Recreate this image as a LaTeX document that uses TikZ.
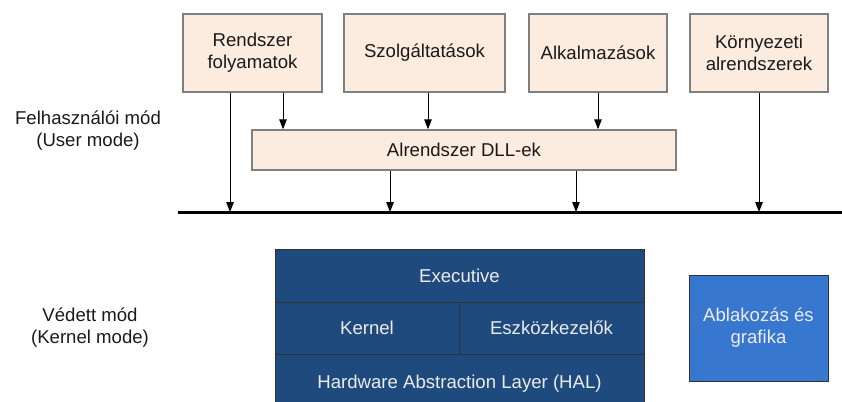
\documentclass[tikz,border=0pt]{standalone}
\usepackage{fontspec}
\setmainfont{Liberation Sans}
\usetikzlibrary{arrows.meta}

\definecolor{userfill}{HTML}{FCEBDF}
\definecolor{userline}{HTML}{7F7F7F}
\definecolor{kernfill}{HTML}{1F4A7E}
\definecolor{winfill}{HTML}{3877D0}
\definecolor{darktext}{HTML}{1A1A1A}

\tikzset{
  userbox/.style={draw=userline, line width=1.4pt, fill=userfill, text=darktext,
    align=center, inner sep=0pt, minimum height=78pt},
  kernbox/.style={draw=black!80, line width=0.8pt, fill=kernfill, text=white!92!black,
    align=center, inner sep=0pt},
  modetext/.style={text=darktext, align=center},
  callarrow/.style={-{Triangle[length=10pt,width=7.5pt]}, line width=1pt}
}

\begin{document}
\begin{tikzpicture}[x=1pt,y=-1pt,font=\fontsize{18.6}{22}\selectfont]
  \useasboundingbox (0,0) rectangle (842,401);

  % user mode
  \node (rf) at (252.5,53) [userbox, minimum width=139pt] {Rendszer\\folyamatok};
  \node (sz) at (424.5,53) [userbox, minimum width=161pt] {Szolgáltatások};
  \node (al) at (598,53)   [userbox, minimum width=138pt] {Alkalmazások};
  \node (kv) at (759,53)   [userbox, minimum width=138pt] {Környezeti\\alrendszerek};
  \node (dll) at (464,150) [userbox, minimum width=424pt, minimum height=40pt] {Alrendszer DLL-ek};

  % bus
  \coordinate (busL) at (178,212);
  \coordinate (busR) at (842,212);
  \draw[line width=3pt] (busL) -- (busR);

  \draw[callarrow] ([xshift=-22.5pt]rf.south) -- ([xshift=-22.5pt]rf.south |- busL);
  \draw[callarrow] ([xshift=30.5pt]rf.south) -- ([xshift=30.5pt]rf.south |- dll.north);
  \draw[callarrow] ([xshift=3.5pt]sz.south) -- ([xshift=3.5pt]sz.south |- dll.north);
  \draw[callarrow] (al.south) -- (al.south |- dll.north);
  \draw[callarrow] ([xshift=-74pt]dll.south) -- ([xshift=-74pt]dll.south |- busL);
  \draw[callarrow] ([xshift=112pt]dll.south) -- ([xshift=112pt]dll.south |- busL);
  \draw[callarrow] (kv.south) -- (kv.south |- busL);

  % kernel mode (the bottom row runs off the page)
  \node (ex) at (459.5,275.5) [kernbox, minimum width=369pt, minimum height=53pt] {Executive};
  \node (kn) at (367,328)   [kernbox, minimum width=184pt, minimum height=52pt] {Kernel};
  \node (ek) at (551.5,328) [kernbox, minimum width=185pt, minimum height=52pt] {Eszközkezelők};
  \node (hal) at (459.5,384) [kernbox, minimum width=369pt, minimum height=60pt] {Hardware Abstraction Layer (HAL)};
  \node (win) at (758.5,328) [kernbox, fill=winfill, minimum width=139pt, minimum height=106pt] {Ablakozás és\\grafika};

  \node (um) at (88,131) [modetext] {Felhasználói mód\\(User mode)};
  \node (km) at (90,328) [modetext] {Védett mód\\(Kernel mode)};
\end{tikzpicture}
\end{document}
